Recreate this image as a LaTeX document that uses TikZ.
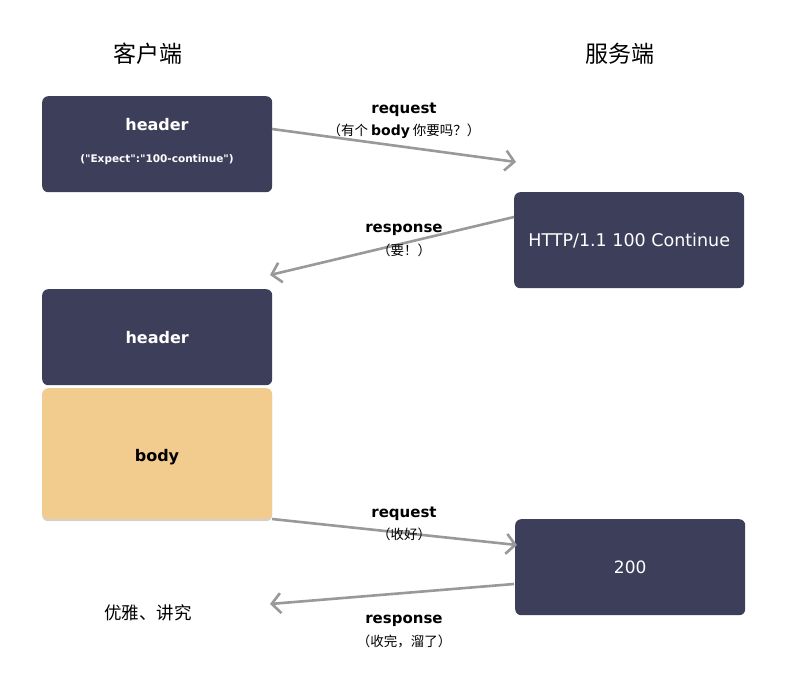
\documentclass[tikz,border=0pt]{standalone}
\usepackage{fontspec}
\setmainfont{DejaVu Sans}
\newfontfamily\plaindv{DejaVu Sans}
\newfontfamily\cjk{Noto Sans CJK SC}
\usetikzlibrary{arrows.meta,shadows}
\definecolor{boxdark}{HTML}{3D3F5A}
\definecolor{boxbody}{HTML}{F2CB8F}
\definecolor{arrowgray}{HTML}{999999}
\begin{document}
\begin{tikzpicture}[x=1pt,y=-1pt,
  darkbox/.style={draw=none,fill=boxdark,rounded corners=6pt,minimum width=230pt,minimum height=96pt,text=white,font=\bfseries\fontsize{15}{18}\selectfont,align=center,anchor=north west,inner sep=0pt},
  bodybox/.style={darkbox,fill=boxbody,text=black,minimum height=131pt,drop shadow={shadow xshift=0pt,shadow yshift=-2pt,opacity=0.35}},
  flow/.style={draw=arrowgray,line width=2.6pt,-{Straight Barb[length=9pt,width=20pt,line width=2.6pt]}},
  lbl/.style={font=\bfseries\fontsize{15}{18}\selectfont,inner sep=0pt},
  sub/.style={font=\cjk\fontsize{13.5}{16}\selectfont,inner sep=0pt},
  title/.style={font=\cjk\fontsize{23}{27}\selectfont,inner sep=0pt},
  intext/.style={font=\bfseries\fontsize{16}{19}\selectfont,inner sep=0pt}]
\useasboundingbox (0,0) rectangle (809,675);
\fill[white] (0,0) rectangle (809,675);
\node[title] (tc) at (148,54) {客户端};
\node[title] (ts) at (620,54) {服务端};
\node[darkbox] (A) at (42,96) {};
\node[intext,text=white] (Ah) at (157,125) {header};
\node[text=white,font=\plaindv\bfseries\fontsize{10.5}{13}\selectfont,inner sep=0pt] (Ae) at (157,160) {("Expect":"100-continue")};
\node[darkbox,font=\fontsize{17.5}{20}\selectfont] (B) at (514,192) {HTTP/1.1 100 Continue};
\node[darkbox,font=\bfseries\fontsize{16}{19}\selectfont] (C) at (42,289) {header};
\node[bodybox] (D) at (42,388) {};
\node[intext,text=black] (Db) at (157,457) {body};
\node[darkbox,font=\fontsize{17}{20}\selectfont] (E) at (515,519) {200};
\node[font=\cjk\fontsize{17.5}{20}\selectfont,inner sep=0pt] (g) at (148,613) {优雅、讲究};
\coordinate (a1s) at (272,129);
\coordinate (a1e) at (516,162);
\coordinate (a2s) at (514,217);
\coordinate (a2e) at (270,275);
\coordinate (a3s) at (272,519);
\coordinate (a3e) at (517,545);
\coordinate (a4s) at (514,584);
\coordinate (a4e) at (270,604);
\draw[flow] (a1s) -- (a1e);
\draw[flow] (a2s) -- (a2e);
\draw[flow] (a3s) -- (a3e);
\draw[flow] (a4s) -- (a4e);
\node[lbl] (l1) at (404,110) {request};
\node[sub] (s1) at (404,131) {（有个 {\rmfamily\bfseries\fontsize{14}{16}\selectfont body} 你要吗？）};
\node[lbl] (l2) at (404,230) {response};
\node[sub] (s2) at (404,250) {（要！）};
\node[lbl] (l3) at (404,514) {request};
\node[sub] (s3) at (404,534) {（收好）};
\node[lbl] (l4) at (404,621) {response};
\node[sub] (s4) at (404,641) {（收完，溜了）};
\end{tikzpicture}
\end{document}
